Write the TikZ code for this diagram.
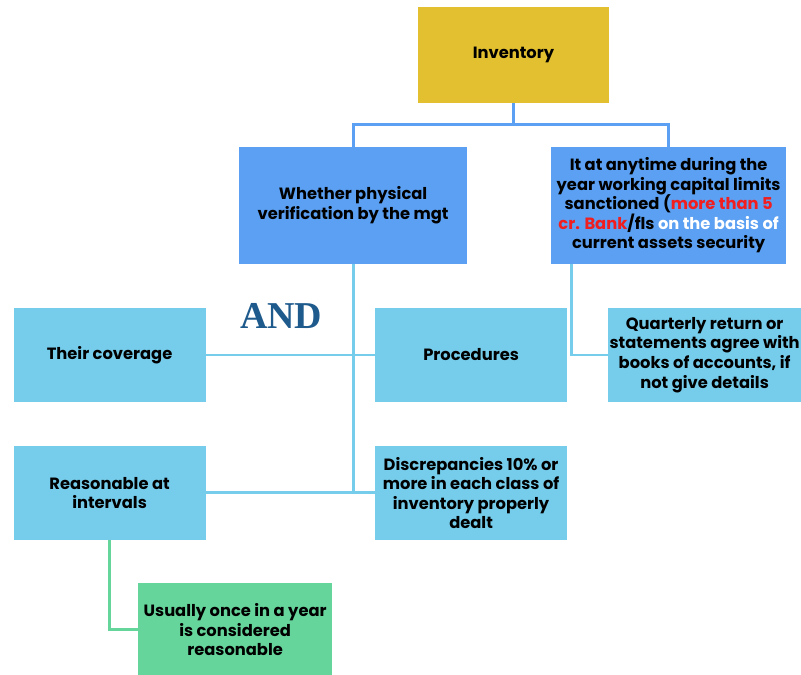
\documentclass[tikz,border=0pt]{standalone}
\usepackage{fontspec}
\setmainfont{Poppins}
\newfontfamily\andfont{Liberation Serif}
\usetikzlibrary{positioning}

\definecolor{invgold}{HTML}{E3C030}
\definecolor{mainblue}{HTML}{5BA0F2}
\definecolor{subblue}{HTML}{75CDEB}
\definecolor{notegreen}{HTML}{66D59B}
\definecolor{anddark}{HTML}{1E5A8C}
\definecolor{hired}{HTML}{F01E1E}

\begin{document}
\begin{tikzpicture}

  % Definitions
  \tikzstyle{inv} = [rectangle, minimum width=4.775cm, minimum height=2.4cm, text centered, fill=invgold]
  \tikzstyle{main} = [rectangle, minimum width=5.7cm, minimum height=2.925cm, align=center, fill=mainblue]
  \tikzstyle{sub} = [rectangle, minimum width=4.8cm, minimum height=2.35cm, inner xsep=1pt, align=center, fill=subblue]
  \tikzstyle{note} = [rectangle, minimum width=4.85cm, minimum height=2.35cm, inner xsep=1pt, align=center, fill=notegreen]
  \tikzstyle{topline} = [line width=2pt, draw=mainblue]
  \tikzstyle{subline} = [line width=2pt, draw=subblue]
  \tikzstyle{noteline} = [line width=2pt, draw=notegreen]

  \useasboundingbox (-12.84,1.375) rectangle (7.19,-15.5);

  \begin{scope}[font=\bfseries\fontsize{11.6}{13.9}\selectfont]
  \node (inv) [inv] {Inventory};
  \node (whe) [main, below of=inv, xshift=-4.01cm, yshift=-2.76cm] {Whether physical\\verification by the mgt};
  \node (any) [main, right of=whe, xshift=6.89cm, minimum width=5.875cm] {It at anytime during the\\year working capital limits\\sanctioned (\textcolor{hired}{more than 5}\\\textcolor{hired}{cr. Bank}/fls \textcolor{white}{on the basis of}\\current assets security};
  \node (cov) [sub, below of=whe, xshift=-6.09cm, yshift=-2.74cm] {Their coverage};
  \node (pro) [sub, right of=cov, xshift=8.04cm] {Procedures};
  \node (qua) [sub, right of=pro, xshift=4.84cm] {Quarterly return or\\statements agree with\\books of accounts, if\\not give details};
  \node (rea) [sub, below of=cov, yshift=-2.45cm] {Reasonable at\\intervals};
  \node (dis) [sub, right of=rea, xshift=8.04cm] {Discrepancies 10\% or\\more in each class of\\inventory properly\\dealt};
  \node (usu) [note, below of=rea, xshift=3.14cm, yshift=-2.425cm] {Usually once in a year\\is considered\\reasonable};
  \end{scope}
  \node (and) [below of=whe, xshift=-1.8cm, yshift=-1.76cm, font=\andfont\bfseries\fontsize{27}{27}\selectfont, text=anddark] {AND};

  \draw [topline] (inv.south) -- ++(0,-0.525) -| (whe.north);
  \draw [topline] (inv.south) -- ++(0,-0.525) -| (any.north);
  \draw [subline] (whe.south) -- (whe.south |- rea.east);
  \draw [subline] (cov.east) -- (pro.west);
  \draw [subline] (rea.east) -- (dis.west);
  \draw [subline] (any.south west) ++(0.525,0) |- (qua.west);
  \draw [noteline] (rea.south) |- (usu.west);

\end{tikzpicture}
\end{document}
